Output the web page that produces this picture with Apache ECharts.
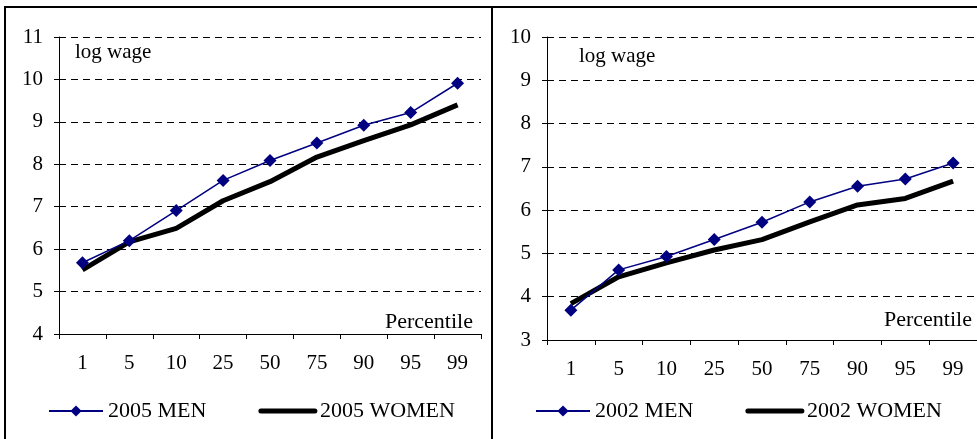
<!DOCTYPE html>
<html>
<head>
<meta charset="utf-8">
<script src="https://cdn.jsdelivr.net/npm/echarts@6/dist/echarts.min.js"></script>
<style>html,body{margin:0;padding:0;background:#fff}#c{width:977px;height:439px}</style>
</head>
<body>
<div id="c"></div>
<script>
var categories = ['1','5','10','25','50','75','90','95','99'];
var men2005 = [5.68, 6.20, 6.91, 7.62, 8.09, 8.50, 8.92, 9.22, 9.91];
var women2005 = [5.51, 6.17, 6.49, 7.14, 7.59, 8.17, 8.56, 8.93, 9.40];
var men2002 = [3.69, 4.62, 4.93, 5.32, 5.72, 6.19, 6.55, 6.72, 7.09];
var women2002 = [3.84, 4.46, 4.78, 5.08, 5.32, 5.73, 6.12, 6.27, 6.67];
var leftTicks = {min: 4, max: 11, step: 1};
var rightTicks = {min: 3, max: 10, step: 1};

var FONT = 'Liberation Serif';
var chart = echarts.init(document.getElementById('c'), null, {renderer: 'canvas'});

function xAxisCfg(gi) {
  return {
    type: 'category', gridIndex: gi, data: categories, boundaryGap: true,
    axisLine: {lineStyle: {color: '#000', width: 1}},
    axisTick: {show: true, length: 5, lineStyle: {color: '#000'}},
    axisLabel: {color: '#000', fontFamily: FONT, fontSize: 21, margin: 19},
    splitLine: {show: false}
  };
}
function yAxisCfg(gi, t) {
  return {
    type: 'value', gridIndex: gi, min: t.min, max: t.max, interval: t.step,
    axisLine: {show: true, lineStyle: {color: '#000', width: 1}},
    axisTick: {show: true, length: 5, lineStyle: {color: '#000'}},
    axisLabel: {color: '#000', fontFamily: FONT, fontSize: 21, margin: 16},
    splitLine: {show: true, lineStyle: {color: '#000', type: [7, 5], width: 1}}
  };
}
function menSeries(name, xi, data) {
  return {
    name: name, type: 'line', xAxisIndex: xi, yAxisIndex: xi, data: data,
    symbol: 'diamond', symbolSize: 13, showSymbol: true,
    itemStyle: {color: '#000080'},
    lineStyle: {color: '#000080', width: 1.5},
    z: 3, animation: false
  };
}
function womenSeries(name, xi, data) {
  return {
    name: name, type: 'line', xAxisIndex: xi, yAxisIndex: xi, data: data,
    symbol: 'none', itemStyle: {color: '#000'},
    lineStyle: {color: '#000', width: 5}, z: 2, animation: false
  };
}
function legendCfg(left, names) {
  return {
    left: left, top: 395, itemWidth: 54, itemHeight: 14, itemGap: 52,
    data: [
      {name: names[0], lineStyle: {width: 2, color: '#000080'}, itemStyle: {color: '#000080'}},
      {name: names[1], lineStyle: {width: 5, color: '#000', cap: 'round'}, itemStyle: {opacity: 0, color: 'rgba(0,0,0,0)', borderWidth: 0}}
    ],
    textStyle: {color: '#000', fontFamily: FONT, fontSize: 22},
    selectedMode: false
  };
}
function txt(x, y, s, size) {
  return {type: 'text', x: x, y: y, style: {text: s, fill: '#000', fontFamily: FONT, fontSize: size}, silent: true};
}

chart.setOption({
  animation: false,
  backgroundColor: '#fff',
  grid: [
    {left: 59, top: 37, width: 422, height: 297, containLabel: false},
    {left: 547, top: 37, width: 441, height: 303, containLabel: false}
  ],
  xAxis: [xAxisCfg(0), xAxisCfg(1)],
  yAxis: [yAxisCfg(0, leftTicks), yAxisCfg(1, rightTicks)],
  legend: [legendCfg(43, ['2005 MEN', '2005 WOMEN']), legendCfg(530, ['2002 MEN', '2002 WOMEN'])],
  series: [
    menSeries('2005 MEN', 0, men2005),
    womenSeries('2005 WOMEN', 0, women2005),
    menSeries('2002 MEN', 1, men2002),
    womenSeries('2002 WOMEN', 1, women2002)
  ],
  graphic: [
    {type: 'rect', shape: {x: 5, y: 7, width: 487, height: 470}, style: {fill: 'none', stroke: '#000', lineWidth: 2}, silent: true},
    {type: 'rect', shape: {x: 492, y: 7, width: 520, height: 470}, style: {fill: 'none', stroke: '#000', lineWidth: 2}, silent: true},
    txt(75, 42, 'log wage', 21),
    txt(579, 46, 'log wage', 21),
    txt(385, 311, 'Percentile', 22),
    txt(884, 309, 'Percentile', 22)
  ]
});
</script>
</body>
</html>
